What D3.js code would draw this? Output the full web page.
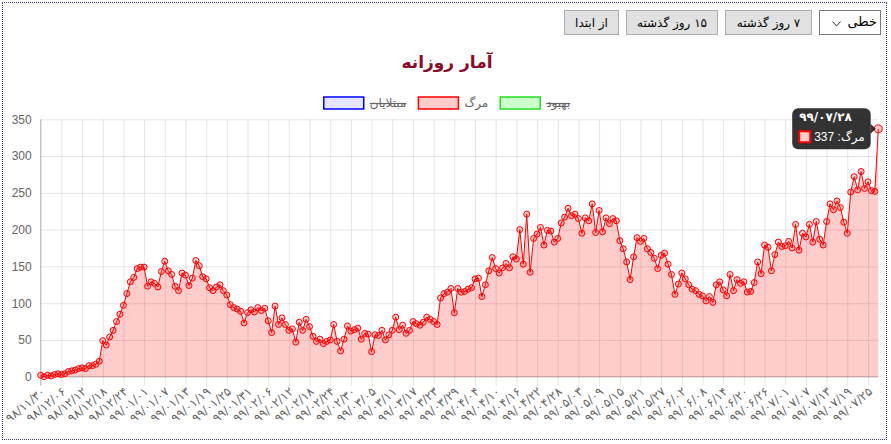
<!DOCTYPE html>
<html lang="fa">
<head>
<meta charset="utf-8">
<script src="https://cdn.jsdelivr.net/npm/d3@7"></script>
<style>
    body { margin: 0; background: #fff; font-family: Tahoma, "DejaVu Sans", sans-serif; }
    #frame { position: absolute; left: 2px; top: 2px; width: 883px; height: 436px; border: 1px dotted #3c3c6e; }
    #chart { position: absolute; left: 0; top: 0; }
    .ctrl { position: absolute; top: 10px; height: 25px; box-sizing: border-box; font: 12px Tahoma, "DejaVu Sans", sans-serif; color: #000; }
    button.ctrl { background: #e1e1e1; border: 1px solid #adadad; padding: 0; }
    #type { left: 819px; width: 62px; background: #fff; border: 1px solid #7a7a7a; font-size: 13px; }
    #type span { position: absolute; right: 3px; top: 3px; }
    #type svg { position: absolute; left: 12px; top: 10px; }
</style>
</head>
<body>
<div id="frame"></div>
<div id="chart"></div>
<button class="ctrl" dir="rtl" style="left:564px;width:55px">از ابتدا</button>
<button class="ctrl" dir="rtl" style="left:626px;width:92px">۱۵ روز گذشته</button>
<button class="ctrl" dir="rtl" style="left:725px;width:87px">۷ روز گذشته</button>
<div class="ctrl" id="type" dir="rtl"><span>خطی</span><svg width="9" height="6"><polyline points="0.5,0.5 4.5,5 8.5,0.5" fill="none" stroke="#333" stroke-width="1"/></svg></div>
<script>
// ---- data ----
const deaths = [
    2, 0, 2, 1, 3, 4, 3, 4, 7, 8,
    9, 11, 12, 11, 15, 15, 17, 21, 49, 43,
    54, 63, 75, 85, 97, 113, 129, 135, 147, 149,
    149, 123, 129, 127, 122, 143, 157, 144, 139, 123,
    117, 141, 138, 124, 134, 158, 151, 136, 133, 121,
    117, 122, 125, 117, 111, 98, 94, 92, 89, 73,
    87, 91, 88, 94, 90, 93, 76, 60, 96, 71,
    80, 71, 63, 65, 47, 74, 63, 78, 68, 55,
    48, 51, 45, 48, 50, 71, 48, 35, 51, 69,
    62, 64, 66, 51, 59, 58, 34, 57, 56, 63,
    50, 57, 63, 81, 64, 70, 59, 63, 75, 72,
    70, 74, 81, 78, 75, 71, 107, 113, 115, 120,
    87, 120, 115, 116, 119, 121, 133, 134, 109, 125,
    144, 162, 147, 141, 148, 154, 148, 163, 160, 200,
    153, 221, 142, 188, 194, 203, 179, 199, 198, 183,
    188, 209, 217, 229, 219, 221, 215, 195, 216, 212,
    235, 196, 226, 197, 216, 208, 215, 212, 185, 174,
    156, 132, 163, 189, 184, 188, 174, 169, 161, 147,
    165, 168, 153, 139, 112, 126, 141, 133, 125, 119,
    117, 112, 110, 103, 109, 101, 125, 129, 118, 110,
    139, 117, 132, 127, 129, 115, 116, 128, 156, 140,
    179, 176, 144, 166, 183, 177, 178, 184, 175, 207,
    172, 195, 190, 207, 183, 211, 187, 179, 211, 235,
    227, 239, 230, 210, 195, 251, 272, 254, 279, 256,
    265, 253, 252, 337
];
const startDay = [98, 11, 30];                                   // yy/mm/dd (jalali)
const monthLengths = [31, 31, 31, 31, 31, 31, 30, 30, 30, 30, 30, 29];
const tickEvery = 6;                                             // one x label every 6 days
const yTicks = [0, 50, 100, 150, 200, 250, 300, 350];
const chartTitle = 'آمار روزانه';
const seriesName = 'مرگ';
const legendItems = [
    { label: 'مبتلایان', stroke: '#0000ff', fill: 'rgba(0,0,255,0.1)', hidden: true },
    { label: 'مرگ', stroke: '#ff0000', fill: 'rgba(255,0,0,0.2)', hidden: false },
    { label: 'بهبود', stroke: '#22dd22', fill: 'rgba(0,255,0,0.2)', hidden: true }
];

const faDigits = '۰۱۲۳۴۵۶۷۸۹';
const toFa = s => String(s).replace(/\d/g, c => faDigits[c]);
const pad2 = n => String(n).padStart(2, '0');

// builds the day labels from the first day, one per value
function buildDays(start, count) {
    let [y, m, d] = start;
    const out = [];
    for (let i = 0; i < count; i++) {
        out.push(toFa(`${y}/${pad2(m)}/${pad2(d)}`));
        d++;
        if (d > monthLengths[m - 1]) { d = 1; m++; if (m > 12) { m = 1; y++; } }
    }
    return out;
}
const days = buildDays(startDay, deaths.length);
const tickLabels = days.filter((d, i) => i % tickEvery === 0);

class DailyChart {
    width; height;
    margin; // [top, bottom, left, right]
    svg; chart;
    scaleX; scaleY;
    data;

    constructor(container, width, height, margin) {
        this.width = width;
        this.height = height;
        this.margin = margin;
        this.svg = d3.select(container).append('svg')
            .attr('width', width).attr('height', height);
        this.chart = this.svg.append('g')
            .attr('transform', `translate(${margin[2]},${margin[0]})`);
    }

    #updateScales() {
        const w = this.width - this.margin[2] - this.margin[3],
            h = this.height - this.margin[0] - this.margin[1];
        this.plotW = w; this.plotH = h;
        this.scaleX = d3.scalePoint(this.data.map(d => d.day), [0, w]);
        this.scaleY = d3.scaleLinear([0, 350], [h, 0]);
    }

    #updateAxes() {
        // grid
        const gridY = this.chart.append('g')
            .call(d3.axisLeft(this.scaleY).tickValues(yTicks).tickSize(-this.plotW).tickFormat(''));
        const gridX = this.chart.append('g')
            .call(d3.axisBottom(this.scaleX).tickValues(tickLabels).tickSize(this.plotH + 9).tickFormat(''));
        [gridX, gridY].forEach(g => {
            g.select('.domain').remove();
            g.selectAll('line').attr('stroke', 'rgba(0,0,0,0.1)');
        });

        // axis lines
        this.chart.append('line').attr('x1', 0).attr('x2', 0).attr('y1', 0).attr('y2', this.plotH + 9)
            .attr('stroke', 'rgba(0,0,0,0.25)');
        this.chart.append('line').attr('x1', 0).attr('x2', this.plotW).attr('y1', this.plotH).attr('y2', this.plotH)
            .attr('stroke', 'rgba(0,0,0,0.25)');

        // labels
        const axisY = this.chart.append('g')
            .call(d3.axisLeft(this.scaleY).tickValues(yTicks).tickSize(0).tickPadding(9));
        axisY.select('.domain').remove();
        axisY.selectAll('text')
            .attr('fill', '#666').style('font', '12px "Liberation Sans", Arial, sans-serif');

        const axisX = this.chart.append('g')
            .attr('transform', `translate(0,${this.plotH})`)
            .call(d3.axisBottom(this.scaleX).tickValues(tickLabels).tickSize(0));
        axisX.select('.domain').remove();
        axisX.selectAll('text')
            .attr('fill', '#666')
            .style('font', '12px Tahoma, "DejaVu Sans", sans-serif')
            .attr('text-anchor', 'end')
            .attr('y', 0).attr('dy', '0.35em')
            .attr('transform', 'translate(2,13) rotate(-40)');
    }

    #updateLine() {
        const area = d3.area()
            .x(d => this.scaleX(d.day))
            .y0(this.scaleY(0))
            .y1(d => this.scaleY(d.value));
        const line = d3.line()
            .x(d => this.scaleX(d.day))
            .y(d => this.scaleY(d.value));

        this.chart.append('path').datum(this.data)
            .attr('fill', 'rgba(255,0,0,0.2)')
            .attr('d', area);
        this.chart.append('path').datum(this.data)
            .attr('fill', 'none')
            .attr('stroke', '#ff0000')
            .attr('stroke-width', 1)
            .attr('d', line);
        this.chart.selectAll('circle.pt')
            .data(this.data)
            .join('circle')
            .classed('pt', true)
            .attr('cx', d => this.scaleX(d.day))
            .attr('cy', d => this.scaleY(d.value))
            .attr('r', (d, i) => i === this.data.length - 1 ? 4 : 3)
            .attr('fill', 'rgba(255,0,0,0.2)')
            .attr('stroke', '#ff0000')
            .attr('stroke-width', 1);
    }

    #updateTitleLegend() {
        this.svg.append('text')
            .attr('x', 447).attr('y', 68)
            .attr('text-anchor', 'middle')
            .attr('fill', '#8c0a28')
            .style('font', 'bold 17px Tahoma, "DejaVu Sans", sans-serif')
            .text(chartTitle);

        const legend = this.svg.append('g');
        const items = legend.selectAll('g.item')
            .data(legendItems)
            .join('g').classed('item', true);
        items.append('rect')
            .attr('width', 40).attr('height', 12)
            .attr('fill', d => d.fill)
            .attr('stroke', d => d.stroke).attr('stroke-width', 1.5);
        items.append('text')
            .attr('x', 46).attr('y', 6).attr('dy', '0.35em')
            .attr('fill', '#666')
            .style('font', '12px Tahoma, "DejaVu Sans", sans-serif')
            .style('text-decoration', d => d.hidden ? 'line-through' : 'none')
            .text(d => d.label);

        // lay items side by side, centred
        const widths = [];
        items.each(function () {
            widths.push(46 + this.querySelector('text').getComputedTextLength());
        });
        const total = d3.sum(widths) + 12 * (widths.length - 1);
        let x = 447 - total / 2;
        items.attr('transform', (d, i) => {
            const t = `translate(${x},97)`;
            x += widths[i] + 12;
            return t;
        });
    }

    #updateTooltip() {
        const last = this.data[this.data.length - 1];
        const px = this.margin[2] + this.scaleX(last.day),
            py = this.margin[0] + this.scaleY(last.value);
        const x1 = px - 7.6, y0 = py - 20.6, h = 41, r = 6;
        const tip = this.svg.append('g');
        const box = tip.append('rect');
        const caret = tip.append('path');

        // body text first, so the box can fit it
        const body = tip.append('text')
            .attr('x', x1 - 6).attr('y', y0 + 33)
            .attr('fill', '#fff')
            .style('font', '12px "Liberation Sans", Arial, "DejaVu Sans", sans-serif')
            .attr('direction', 'rtl')
            .attr('text-anchor', 'start')
            .text(`${seriesName}: ${last.value}`);
        const w = Math.max(74, 6 + body.node().getComputedTextLength() + 4 + 11 + 7);
        const x0 = x1 - w;

        box.attr('x', x0).attr('y', y0).attr('width', w).attr('height', h).attr('rx', r)
            .attr('fill', 'rgba(0,0,0,0.8)');
        caret.attr('d', `M${x1},${py - 5}L${x1 + 5},${py}L${x1},${py + 5}Z`)
            .attr('fill', 'rgba(0,0,0,0.8)');
        tip.append('text')
            .attr('x', x0 + 7).attr('y', y0 + 13)
            .attr('fill', '#fff')
            .style('font', 'bold 12px Tahoma, "DejaVu Sans", sans-serif')
            .text(last.day);
        tip.append('rect')
            .attr('x', x0 + 7).attr('y', y0 + 23).attr('width', 11).attr('height', 11)
            .attr('fill', '#ffcccc').attr('stroke', '#ff0000').attr('stroke-width', 2);
    }

    render(values, labels) {
        this.data = values.map((v, i) => ({ day: labels[i], value: v }));
        this.#updateScales();
        this.#updateAxes();
        this.#updateLine();
        this.#updateTitleLegend();
        this.#updateTooltip();
        return this;
    }
}

new DailyChart('#chart', 891, 444, [119.3, 67.3, 40.7, 12.7]).render(deaths, days);
</script>
</body>
</html>
